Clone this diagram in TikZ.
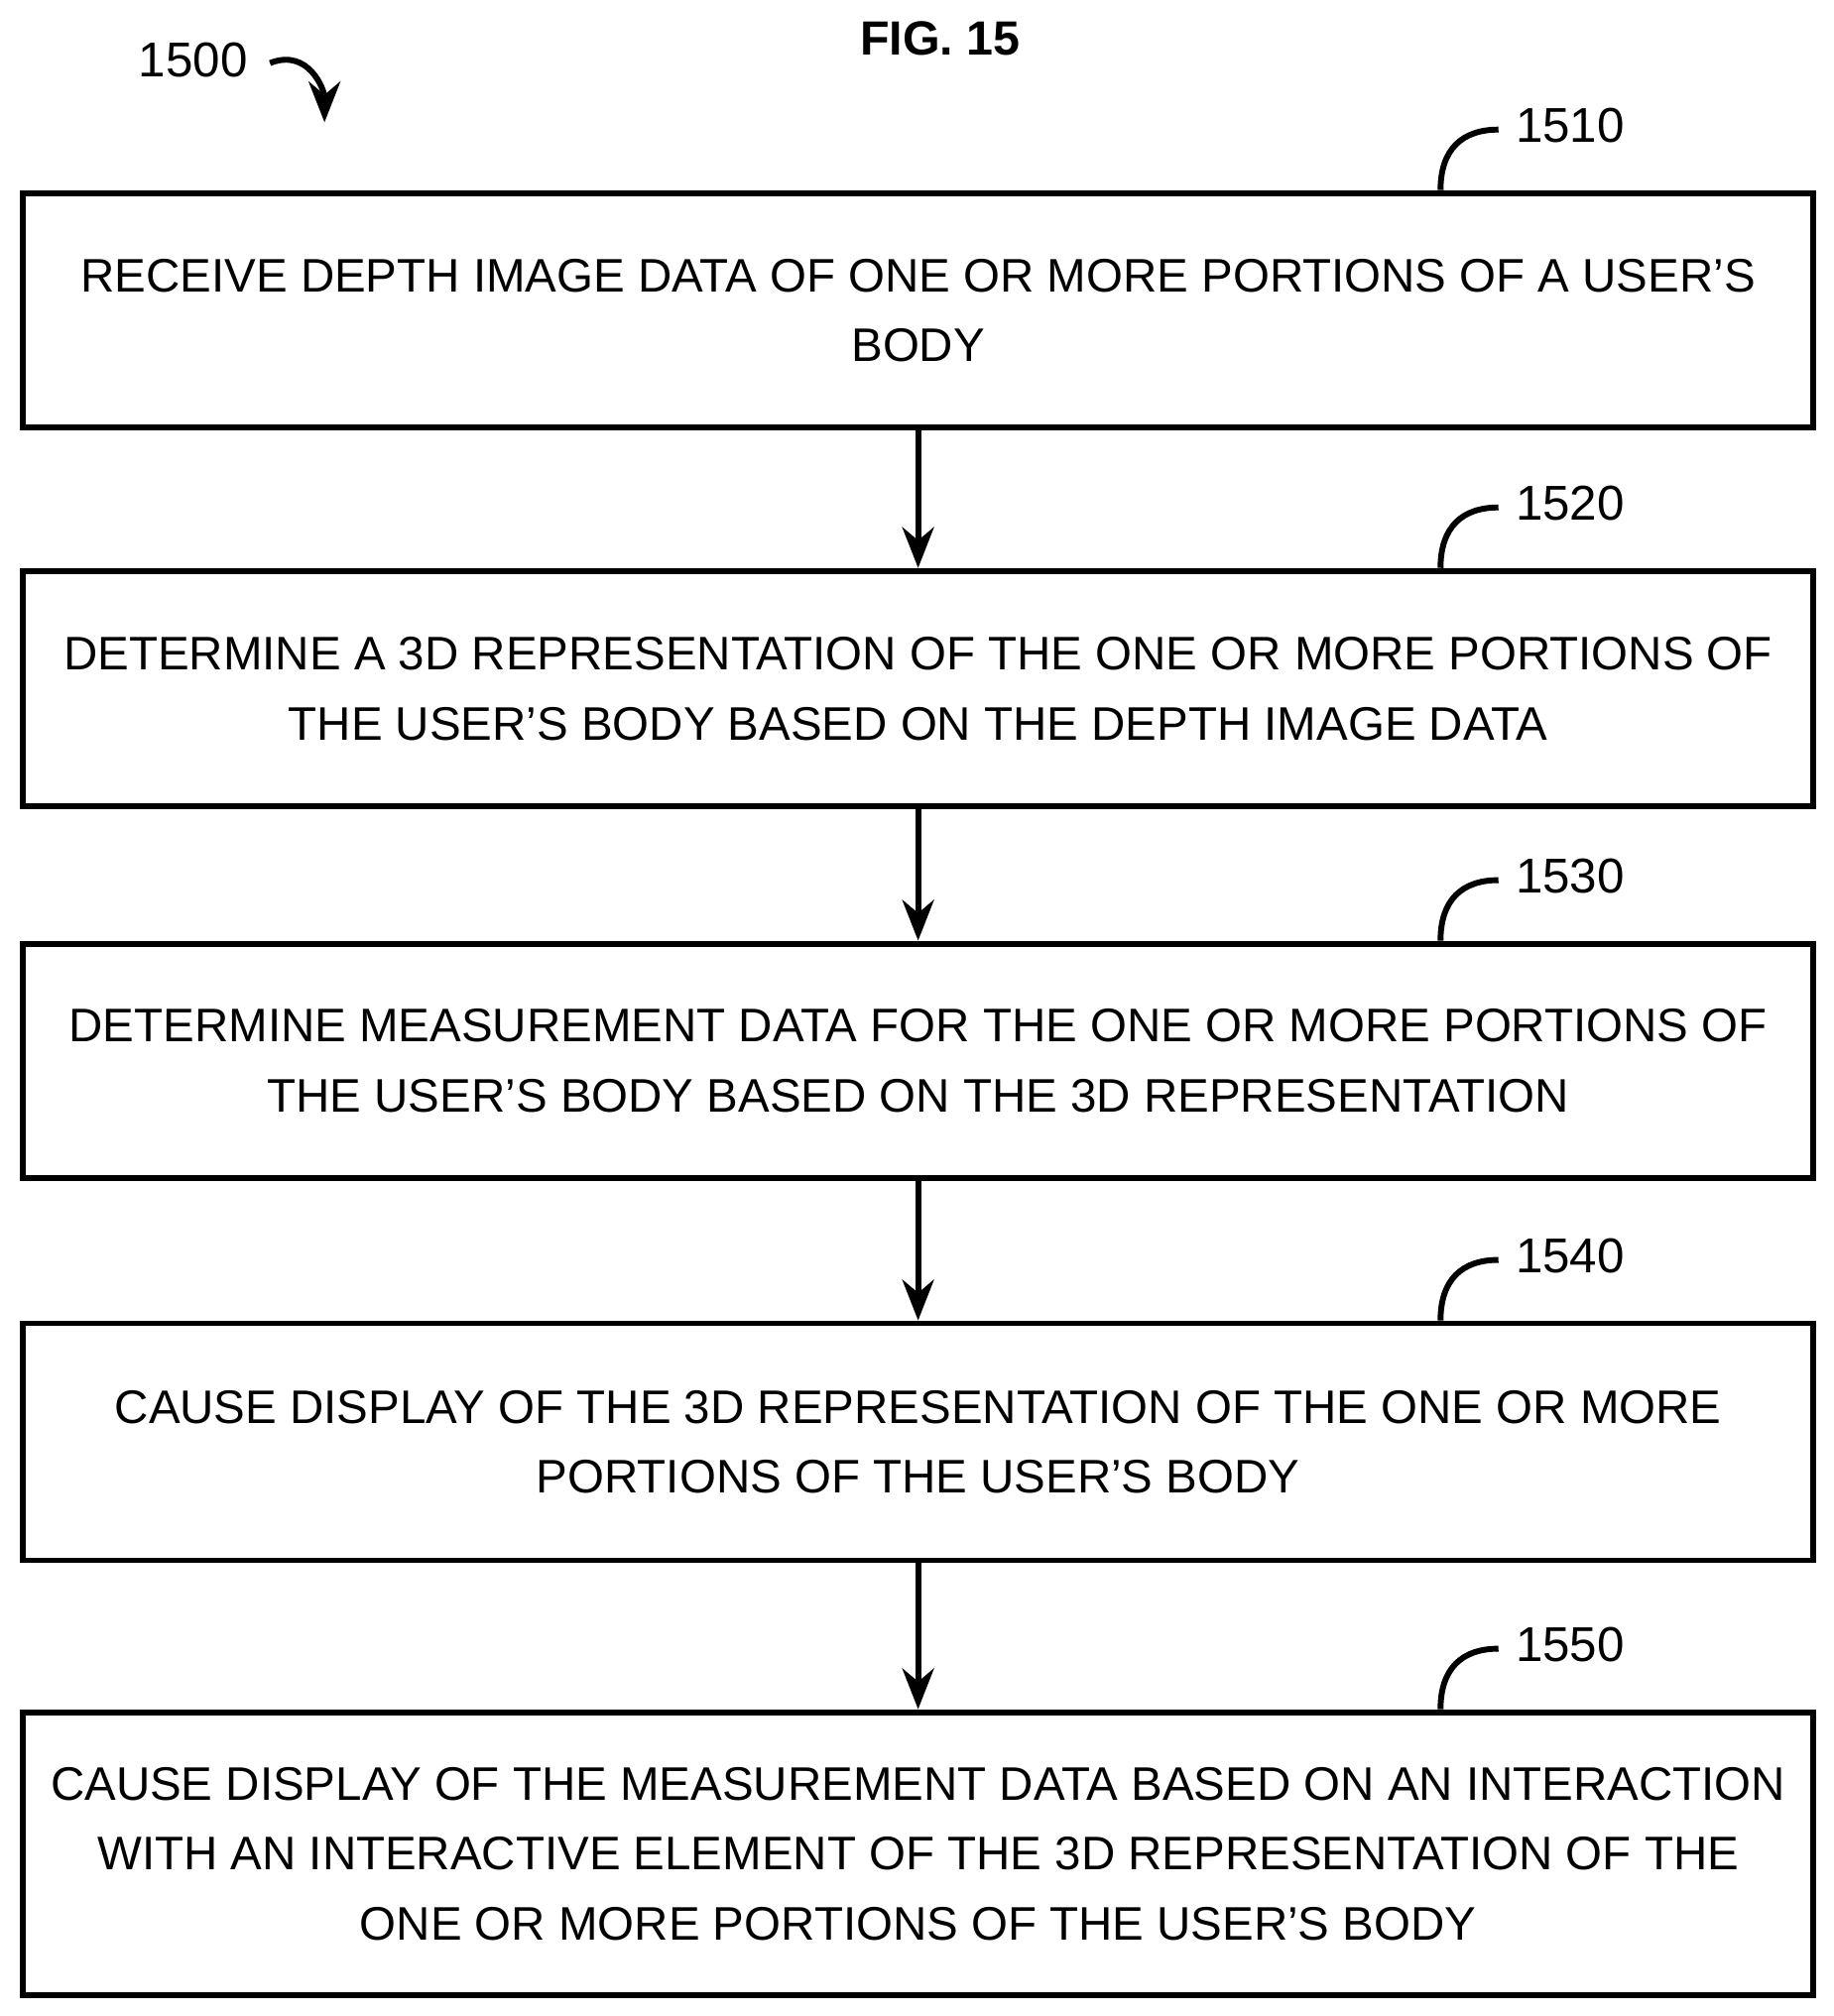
\documentclass[tikz,border=0pt]{standalone}
\usepackage{fontspec}
\setmainfont{Liberation Sans}
\usetikzlibrary{arrows.meta,positioning}

\begin{document}
\begin{tikzpicture}[x=0.01cm,y=-0.01cm,
    stepbox/.style={
        rectangle,
        draw=black,
        line width=1.3pt,
        minimum width=13.9cm,
        align=center,
        font=\fontsize{10.4}{15.4}\selectfont
    },
    flow/.style={-{Stealth[length=9pt,width=7pt]}, line width=1.3pt},
    tag/.style={font=\fontsize{10.8}{13}\selectfont}
]
    \useasboundingbox (0,0) rectangle (1424,1566);

    % title and figure number
    \node[font=\bfseries\fontsize{10.6}{13}\selectfont] (fig) at (730,30) {FIG. 15};
    \node[tag] (num) at (150,47) {1500};
    \coordinate (numtip) at (252,95);
    \draw[-{Stealth[length=9pt,width=7pt]}, line width=1.3pt] (num.east) ++(5,2)
        .. controls +(30,-12) and +(0,-25) .. (numtip);

    % steps
    \node[stepbox, minimum height=1.82cm] (s1510) at (713,241) {RECEIVE DEPTH IMAGE DATA OF ONE OR MORE PORTIONS OF A USER’S\\BODY};
    \node[stepbox, minimum height=1.83cm] (s1520) at (713,535) {DETERMINE A 3D REPRESENTATION OF THE ONE OR MORE PORTIONS OF\\THE USER’S BODY BASED ON THE DEPTH IMAGE DATA};
    \node[stepbox, minimum height=1.82cm] (s1530) at (713,824) {DETERMINE MEASUREMENT DATA FOR THE ONE OR MORE PORTIONS OF\\THE USER’S BODY BASED ON THE 3D REPRESENTATION};
    \node[stepbox, minimum height=1.84cm] (s1540) at (713,1120) {CAUSE DISPLAY OF THE 3D REPRESENTATION OF THE ONE OR MORE\\PORTIONS OF THE USER’S BODY};
    \node[stepbox, minimum height=2.2cm] (s1550) at (713,1440) {CAUSE DISPLAY OF THE MEASUREMENT DATA BASED ON AN INTERACTION\\WITH AN INTERACTIVE ELEMENT OF THE 3D REPRESENTATION OF THE\\ONE OR MORE PORTIONS OF THE USER’S BODY};

    % connectors
    \draw[flow] (s1510) -- (s1520);
    \draw[flow] (s1520) -- (s1530);
    \draw[flow] (s1530) -- (s1540);
    \draw[flow] (s1540) -- (s1550);

    % reference labels with hooks
    \foreach \n in {1510,1520,1530,1540,1550} {
        \path (s\n.north east) ++(-246,-50) node[tag, anchor=west] (l\n) {\n};
        \draw[line width=1.3pt] (s\n.north east) ++(-292,0)
            .. controls +(0,-32) and +(-28,0) .. ++(45,-47);
    }
\end{tikzpicture}
\end{document}
